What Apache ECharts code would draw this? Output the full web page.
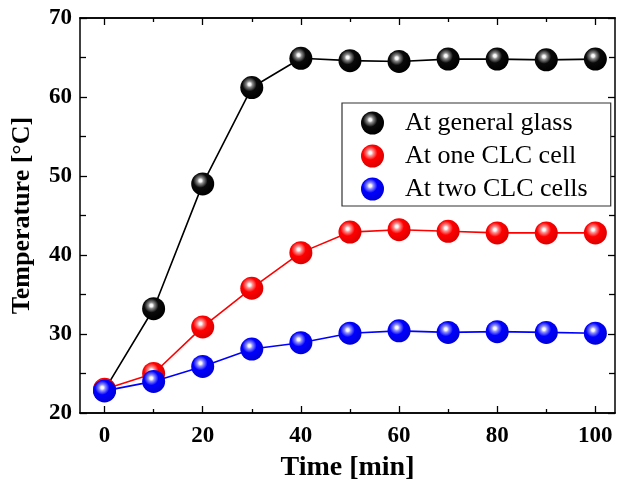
<!DOCTYPE html>
<html><head><meta charset="utf-8">
<script src="https://cdn.jsdelivr.net/npm/echarts@6/dist/echarts.min.js"></script>
<style>html,body{margin:0;padding:0;background:#fff}#c{width:620px;height:487px}</style>
</head><body><div id="c"></div>
<script>
const times = [0,10,20,30,40,50,60,70,80,90,100];
const glass = [22.9,33.2,49.0,61.2,64.9,64.6,64.5,64.8,64.8,64.7,64.8];
const oneCell = [23.0,25.0,30.9,35.8,40.3,42.9,43.2,43.0,42.8,42.8,42.8];
const twoCells = [22.8,24.0,25.9,28.1,28.9,30.1,30.4,30.2,30.3,30.2,30.1];
const seriesNames = ['At general glass','At one CLC cell','At two CLC cells'];
const xMajor = [0,20,40,60,80,100];
const xMinor = [10,30,50,70,90];

const font = 'Liberation Serif';
function sphere(light, base, dark){
  return new echarts.graphic.RadialGradient(0.4,0.36,0.62,[
    {offset:0,color:'#ffffff'},{offset:0.1,color:'#f4f4f4'},{offset:0.22,color:light},{offset:0.5,color:base},{offset:1,color:dark}]);
}
const styles = [
  {line:'#000', fill:sphere('#8a8a8a','#0a0a0a','#000')},
  {line:'#ff0000', fill:sphere('#ff9090','#ff0000','#e00000')},
  {line:'#0000ff', fill:sphere('#9090ff','#0000ff','#0000dd')}
];
const dataSets = [glass, oneCell, twoCells];
const axisLine = {show:true, onZero:false, lineStyle:{color:'#000', width:1.5}};
function xAx(pos, vals, len, labels, name){
  return {type:'value', position:pos, min:-5, max:104, axisLine,
    splitLine:{show:false},
    axisTick:{show:true, inside:true, length:len, customValues:vals, lineStyle:{color:'#000',width:1.3}},
    axisLabel:{show:labels, customValues:xMajor, color:'#000', fontFamily:font, fontWeight:'bold', fontSize:23, margin:12},
    name:name||'', nameLocation:'middle', nameGap:41,
    nameTextStyle:{color:'#000', fontFamily:font, fontWeight:'bold', fontSize:28}};
}
function yAx(pos, labels, name){
  return {type:'value', position:pos, min:20, max:70, interval:10, axisLine,
    splitLine:{show:false},
    axisTick:{show:true, inside:true, length:7, lineStyle:{color:'#000',width:1.3}},
    minorTick:{show:true, splitNumber:2, length:6, lineStyle:{color:'#000',width:1.3}},
    axisLabel:{show:labels, color:'#000', fontFamily:font, fontWeight:'bold', fontSize:23, margin:8},
    name:name||'', nameLocation:'middle', nameGap:45,
    nameTextStyle:{color:'#000', fontFamily:font, fontWeight:'bold', fontSize:26}};
}
const chart = echarts.init(document.getElementById('c'));
chart.setOption({
  animation:false,
  backgroundColor:'#fff',
  grid:{left:80, right:5, top:18, bottom:65},
  xAxis:[xAx('bottom', xMajor, 7, true, 'Time [min]'), xAx('bottom', xMinor, 4, false),
         xAx('top', xMajor, 7, false), xAx('top', xMinor, 4, false)],
  yAxis:[yAx('left', true, 'Temperature [°C]'), yAx('right', false)],
  legend:{orient:'vertical', left:342, top:103, width:230,
    backgroundColor:'#fff', borderColor:'#333', borderWidth:1.2,
    padding:[7,23,4,19], itemGap:7, itemWidth:23, itemHeight:23, icon:'circle',
    textStyle:{fontFamily:font, fontSize:26, lineHeight:23, color:'#000', padding:[0,0,0,16]},
    data:seriesNames},
  series: dataSets.map((d,i)=>({
    name:seriesNames[i], type:'line', xAxisIndex:0, yAxisIndex:0,
    data: times.map((t,j)=>[t,d[j]]),
    symbol:'circle', symbolSize:23,
    lineStyle:{color:styles[i].line, width:1.6},
    itemStyle:{color:styles[i].fill, borderWidth:0},
    z:2+i
  }))
});
</script></body></html>
